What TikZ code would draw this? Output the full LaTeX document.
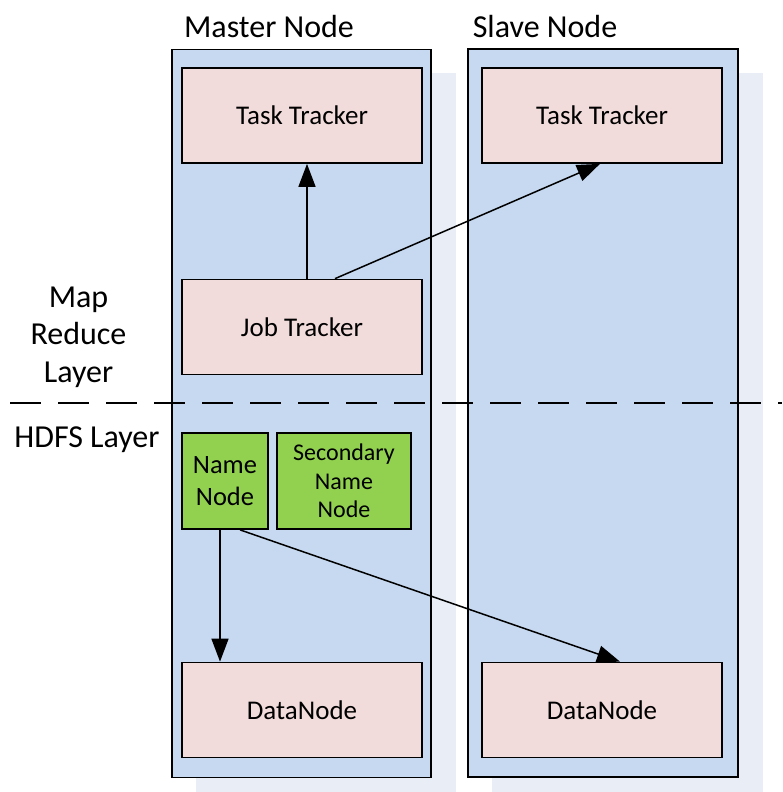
\documentclass[tikz,border=0pt]{standalone}
\usepackage{fontspec}
\setmainfont{Carlito}
\usetikzlibrary{arrows.meta}
\definecolor{colfill}{HTML}{C6D9F0}
\definecolor{shadowfill}{HTML}{E9EEF6}
\definecolor{boxfill}{HTML}{F2DCDB}
\definecolor{greenfill}{HTML}{92D050}
\tikzset{
  column/.style={draw=black, line width=1.7pt, fill=colfill, minimum width=#1, minimum height=728pt, inner sep=0pt},
  pinkbox/.style={draw=black, line width=1.7pt, fill=boxfill, minimum width=240pt, minimum height=95pt, inner sep=0pt,
    font=\fontsize{27}{30}\selectfont},
  greenbox/.style={draw=black, line width=1.7pt, fill=greenfill, minimum height=96pt, inner sep=0pt, align=center},
  heading/.style={font=\fontsize{32}{37.5}\selectfont, align=center, inner sep=0pt},
  link/.style={line width=1.5pt, -{Triangle[length=23pt,width=17pt]}},
  divider/.style={line width=1.5pt, dash pattern=on 31pt off 17pt}
}
\begin{document}
\begin{tikzpicture}[x=1pt,y=-1pt]
  \useasboundingbox (0,0) rectangle (782,792);
  \fill[white] (0,0) rectangle (782,792);

  % drop shadows behind the two columns
  \fill[shadowfill] (196,73) rectangle (456,800);
  \fill[shadowfill] (492,73) rectangle (763,800);

  % machine columns
  \node[column=259pt] (master) at (301.5,413.5) {};
  \node[column=270pt] (slave) at (603,413) {};

  % column titles
  \node[heading] (mastertitle) at (269,27) {Master Node};
  \node[heading] (slavetitle) at (545,27) {Slave Node};

  % layer labels
  \node[heading] (mrlabel) at (78.5,337) {Map\\Reduce\\Layer};
  \node[heading] (hdfslabel) at (87,440) {HDFS Layer};

  % layer divider
  \coordinate (divL) at (10,403);
  \coordinate (divR) at (782,403);
  \draw[divider] (divL) -- (divR);

  % MapReduce layer
  \node[pinkbox] (mtt) at (302,115.5) {Task Tracker};
  \node[pinkbox] (stt) at (602,115.5) {Task Tracker};
  \node[pinkbox] (jt) at (302,327) {Job Tracker};

  % HDFS layer
  \node[greenbox, minimum width=86pt, font=\fontsize{26.5}{32}\selectfont] (nn) at (225,481) {Name\\Node};
  \node[greenbox, minimum width=134pt, font=\fontsize{24}{28.5}\selectfont] (snn) at (344,481) {Secondary\\Name\\Node};
  \node[pinkbox] (mdn) at (302,710) {DataNode};
  \node[pinkbox] (sdn) at (602,710) {DataNode};

  % connectors
  \draw[link] ([xshift=5pt]jt.north) -- ([xshift=5pt]mtt.south);
  \draw[link] ([xshift=33pt]jt.north) -- ([xshift=-2pt]stt.south);
  \draw[link] ([xshift=-5pt]nn.south) -- ([xshift=-82pt]mdn.north);
  \draw[link] ([xshift=15pt]nn.south) -- ([xshift=18pt]sdn.north);
\end{tikzpicture}
\end{document}
